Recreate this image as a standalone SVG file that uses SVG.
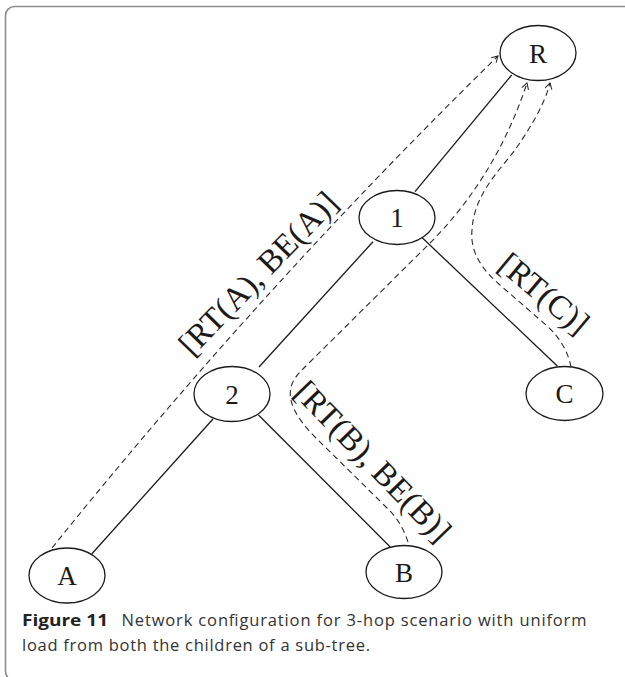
<svg xmlns="http://www.w3.org/2000/svg" width="625" height="677" viewBox="0 0 625 677">
  <defs>
    <marker id="arrow" markerWidth="10" markerHeight="10" refX="7" refY="4" orient="auto" markerUnits="userSpaceOnUse">
      <path d="M1,0.5 L7,4 L1,7.5" fill="none" stroke="#222" stroke-width="1"/>
    </marker>
    <style>
      .frame { fill: none; stroke: #8c8c8c; stroke-width: 1.6; }
      .node ellipse { fill: #fff; stroke: #1a1a1a; stroke-width: 1.3; }
      .node text { font-family: "Liberation Serif", "Times New Roman", serif; font-size: 27px; fill: #1a1a1a; text-anchor: middle; }
      .edge { fill: none; stroke: #1a1a1a; stroke-width: 1.3; }
      .flow { fill: none; stroke: #2a2a2a; stroke-width: 1.1; stroke-dasharray: 6 4; marker-end: url(#arrow); }
      .flowlabel { font-family: "Liberation Serif", "Times New Roman", serif; font-size: 33px; fill: #1a1a1a; text-anchor: middle; }
      .caption { font-family: "Open Sans", "Noto Sans", sans-serif; font-size: 16.5px; fill: #333; }
      .caption .bold { font-weight: bold; fill: #222; }
    </style>
  </defs>

  <rect class="frame" x="5.5" y="6.5" width="660" height="674" rx="9"/>

  <!-- tree links and traffic flows -->
  <g id="connectors">
    <line class="edge" x1="511.7" y1="75" x2="415" y2="191.7"/>
    <line class="edge" x1="373" y1="241.7" x2="259" y2="367"/>
    <line class="edge" x1="421.7" y1="237.3" x2="557.3" y2="366"/>
    <line class="edge" x1="213" y1="419" x2="91.7" y2="554"/>
    <line class="edge" x1="258.5" y1="415" x2="390" y2="546.7"/>

    <path class="flow" d="M52,548 Q260,289 498,56"/>
    <path class="flow" d="M408,542 C404,530 398,518 385,506 L316,438 C296,418 286,400 292,384 C295,376 302,370 310,362 L430,243 C470,203 505,150 527,83"/>
    <path class="flow" d="M571,367 C568,352 560,337 546,325 L500,285 C480,268 470,250 472,230 C474,195 498,172 515,150 C530,128 544,106 550,83"/>
  </g>

  <g id="label-a" class="flowlabel"><text transform="translate(266,281) rotate(-46)">[RT(A), BE(A)]</text></g>
  <g id="label-b" class="flowlabel"><text transform="translate(365,469) rotate(46)">[RT(B), BE(B)]</text></g>
  <g id="label-c" class="flowlabel"><text transform="translate(537,302) rotate(40)">[RT(C)]</text></g>

  <g id="node-R" class="node"><ellipse cx="538" cy="53" rx="38" ry="27.5"/><text x="538" y="62.5">R</text></g>
  <g id="node-1" class="node"><ellipse cx="397" cy="217.5" rx="38" ry="27"/><text x="397" y="227">1</text></g>
  <g id="node-2" class="node"><ellipse cx="232" cy="394" rx="38" ry="27.5"/><text x="232" y="403.5">2</text></g>
  <g id="node-C" class="node"><ellipse cx="564.5" cy="393.5" rx="38.5" ry="27"/><text x="564.5" y="403">C</text></g>
  <g id="node-A" class="node"><ellipse cx="67" cy="575.5" rx="38" ry="27.5"/><text x="67" y="585">A</text></g>
  <g id="node-B" class="node"><ellipse cx="404" cy="572" rx="38" ry="26.5"/><text x="404" y="581.5">B</text></g>

  <g id="caption" class="caption">
    <text x="22" y="626"><tspan class="bold" textLength="86" lengthAdjust="spacingAndGlyphs">Figure 11</tspan><tspan x="121.5" textLength="465" lengthAdjust="spacing">Network configuration for 3-hop scenario with uniform</tspan></text>
    <text x="22" y="651" textLength="348" lengthAdjust="spacing">load from both the children of a sub-tree.</text>
  </g>
</svg>
